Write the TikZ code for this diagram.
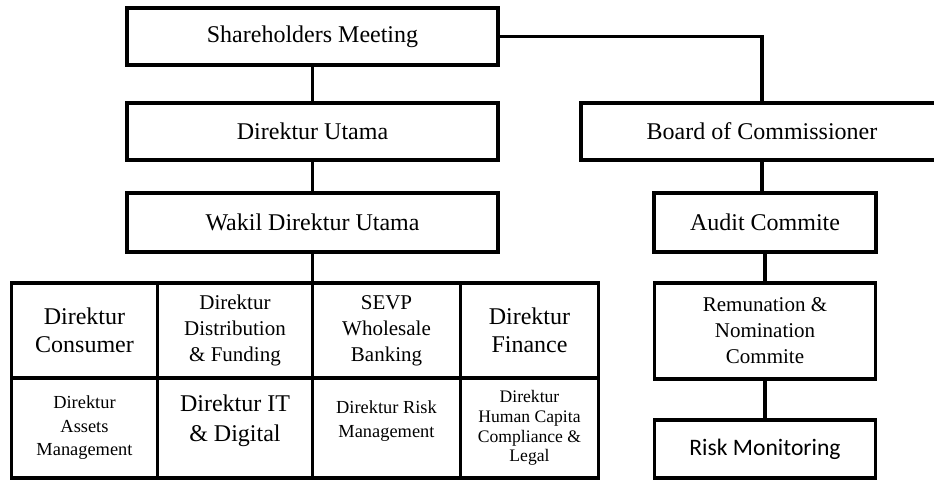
\documentclass[tikz,border=0pt]{standalone}
\usepackage{fontspec}
\setmainfont{Liberation Serif}
\newfontfamily\calibrilike{Carlito}
\usepackage{tikz}
\usetikzlibrary{positioning}
\tikzset{
  orgbox/.style={rectangle, draw=black, line width=1.6pt, outer sep=0pt,
    inner sep=2pt, align=center, minimum height=28.5pt,
    font=\fontsize{12}{14}\selectfont},
  cell/.style={orgbox, minimum height=47.5pt},
  cellb/.style={orgbox, minimum height=50pt},
  midfont/.style={font=\fontsize{10.5}{13}\selectfont},
  smallfont/.style={font=\fontsize{9.2}{11.7}\selectfont},
  tinyfont/.style={font=\fontsize{8.8}{9.8}\selectfont},
  link/.style={line width=1.6pt, line cap=rect},
}

\begin{document}
\begin{tikzpicture}[node distance=16.5pt]
  \useasboundingbox (0,0) rectangle (467pt,-240pt);

  % left column
  \node[orgbox, minimum width=185.5pt, anchor=north west] (share) at (63.5pt,-4pt) {Shareholders Meeting};
  \node[orgbox, minimum width=185.5pt, below=19pt of share] (dirut) {Direktur Utama};
  \node[orgbox, minimum width=185.5pt, minimum height=29.5pt, below=of dirut] (wakil) {Wakil Direktur Utama};

  % right column
  \node[orgbox, minimum width=181pt, right=41.5pt of dirut] (board) {Board of Commissioner};
  \node[orgbox, minimum width=111pt, minimum height=29.5pt, below=of board, xshift=1.5pt] (audit) {Audit Commite};
  \node[orgbox, midfont, minimum width=110.5pt, minimum height=48pt, below=15.5pt of audit] (remun) {Remunation \&\\Nomination\\Commite};
  \node[orgbox, minimum width=110.5pt, minimum height=29pt, below=20.5pt of remun,
        font=\calibrilike\fontsize{11.8}{14}\selectfont] (riskmon) {Risk Monitoring};

  % directors grid
  \node[cell, midfont, minimum width=74pt, below right=15.5pt and 0pt of wakil.south] (sevp) {SEVP\\Wholesale\\Banking};
  \node[cell, midfont, minimum width=77.5pt, left=0pt of sevp] (distrib) {Direktur\\Distribution\\\& Funding};
  \node[cell, minimum width=73pt, left=0pt of distrib] (consumer) {Direktur\\Consumer};
  \node[cell, minimum width=69pt, right=0pt of sevp] (finance) {Direktur\\Finance};

  \node[cellb, smallfont, minimum width=73pt, below=0pt of consumer] (assets) {Direktur\\Assets\\Management};
  \node[cellb, minimum width=77.5pt, below=0pt of distrib, text depth=10pt] (itdig) {Direktur IT\\[1pt]\& Digital};
  \node[cellb, smallfont, minimum width=74pt, below=0pt of sevp, text depth=9pt] (riskdir) {Direktur Risk\\Management};
  \node[cellb, tinyfont, minimum width=69pt, below=0pt of finance] (hcdir) {Direktur\\Human Capita\\Compliance \&\\Legal};

  % connectors
  \draw[link] (share.east) -| (board.north);
  \draw[link] (share) -- (dirut);
  \draw[link] (dirut) -- (wakil);
  \draw[link] (wakil.south) -- (sevp.north west);
  \draw[link] (board.south) -- (board.south |- audit.north);
  \draw[link] (audit) -- (remun);
  \draw[link] (remun) -- (riskmon);
\end{tikzpicture}
\end{document}
